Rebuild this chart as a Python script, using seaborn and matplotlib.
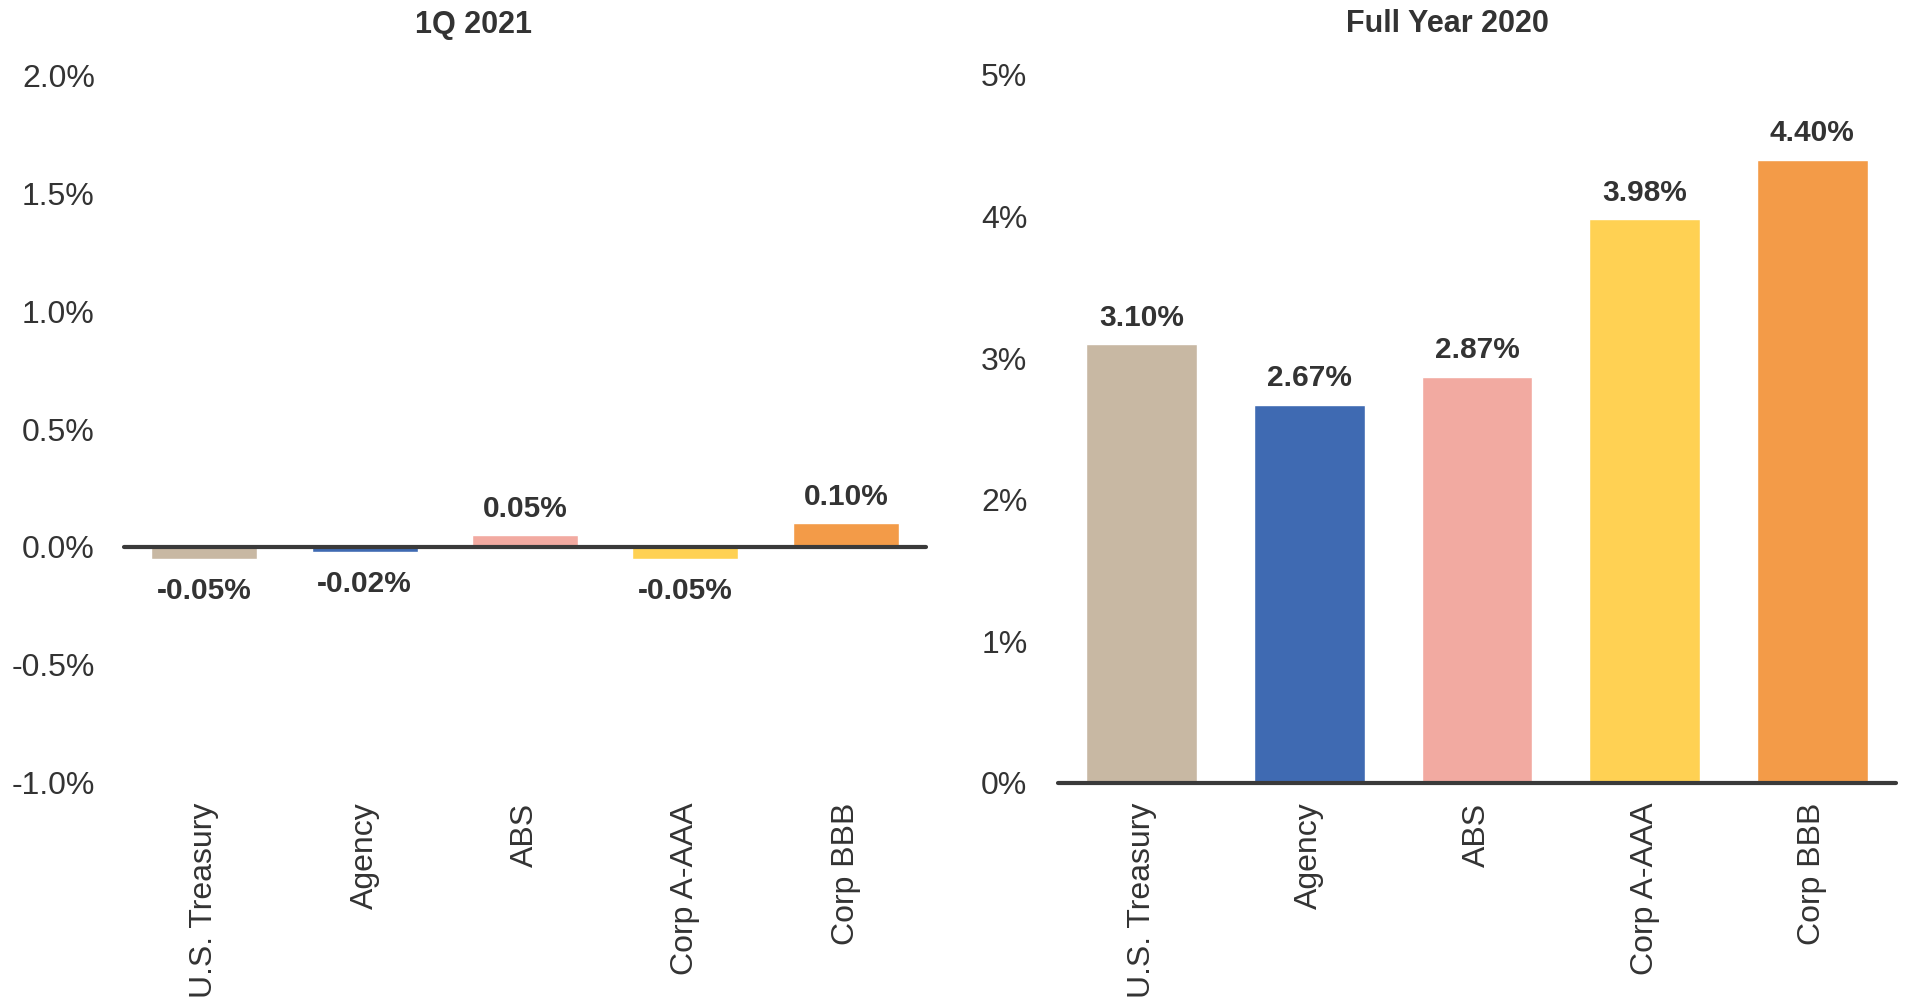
import matplotlib
matplotlib.use("Agg")
import matplotlib.pyplot as plt
import seaborn as sns
import pandas as pd
from matplotlib.ticker import FuncFormatter

categories = ["U.S. Treasury", "Agency", "ABS", "Corp A-AAA", "Corp BBB"]
q1_2021 = [-0.05, -0.02, 0.05, -0.05, 0.10]
fy_2020 = [3.10, 2.67, 2.87, 3.98, 4.40]
colors = ["#C8B8A3", "#3F6AB2", "#F2AAA1", "#FFD153", "#F39B48"]
titles = ["1Q 2021", "Full Year 2020"]

sns.set_theme(style="white")
plt.rcParams["font.family"] = ["Liberation Sans", "DejaVu Sans"]
TXT = "#333333"

fig = plt.figure(figsize=(19.06, 10), dpi=100)
ax1 = fig.add_axes([124/1906, 0.217, (926-124)/1906, 0.708])
ax2 = fig.add_axes([1058/1906, 0.217, (1896-1058)/1906, 0.708])

def draw(ax, values, ylim, ticks, fmt, tpad):
    df = pd.DataFrame({"cat": categories, "val": values})
    sns.barplot(data=df, x="cat", y="val", hue="cat", palette=colors,
                legend=False, width=0.66, ax=ax, saturation=1)
    ax.set_xlim(-0.5, 4.5)
    ax.set_ylim(*ylim)
    ax.set_yticks(ticks)
    ax.yaxis.set_major_formatter(FuncFormatter(fmt))
    for s in ax.spines.values():
        s.set_visible(False)
    ax.axhline(0, color="#3a3a3a", lw=3, zorder=5, clip_on=False)
    ax.tick_params(axis="y", length=0, pad=tpad, labelsize=23, labelcolor=TXT)
    ax.tick_params(axis="x", length=0, pad=14, labelsize=23, labelcolor=TXT,
                   labelrotation=90)
    ax.set_xlabel("")
    ax.set_ylabel("")
    for cont in ax.containers:
        v = cont.datavalues[0]
        ax.bar_label(cont, labels=[f"{x:.2f}%" for x in cont.datavalues],
                     padding=9 if v >= 0 else 13, fontsize=21.5,
                     fontweight="bold", color=TXT)

draw(ax1, q1_2021, (-1.0, 2.0), [-1.0, -0.5, 0.0, 0.5, 1.0, 1.5, 2.0],
     lambda v, p: f"{v:.1f}%", 21)
draw(ax2, fy_2020, (0, 5), [0, 1, 2, 3, 4, 5],
     lambda v, p: f"{v:.0f}%", 22)

fig.text(474/1906, 1 - 24.5/1000, titles[0], ha="center", va="center",
         fontsize=22, fontweight="bold", color=TXT)
fig.text(1447/1906, 1 - 24.5/1000, titles[1], ha="center", va="center",
         fontsize=22, fontweight="bold", color=TXT)

fig.savefig("out.png", dpi=100, facecolor="white")
